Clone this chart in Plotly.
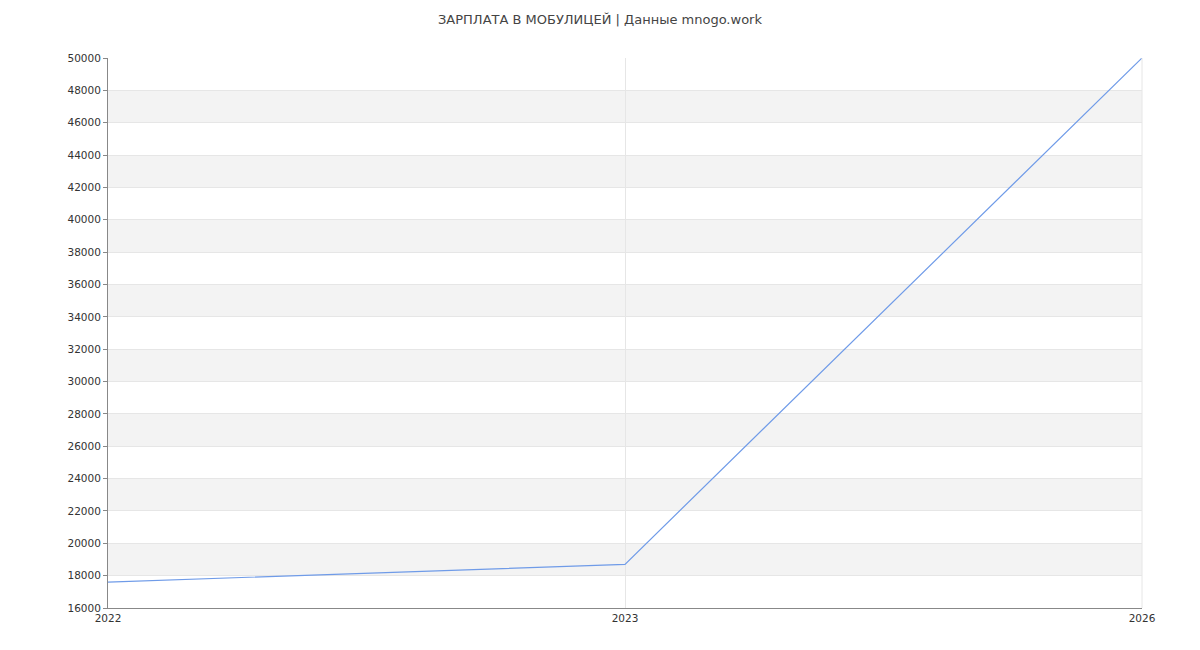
import plotly.graph_objects as go

YEARS = ["2022", "2023", "2026"]
SALARY = [17600, 18700, 50000]
Y_TICKS = list(range(16000, 50001, 2000))

fig = go.Figure()

# alternating gray bands
for lo in range(18000, 50000, 4000):
    fig.add_shape(type="rect", xref="paper", x0=0, x1=1, yref="y", y0=lo, y1=lo + 2000,
                  fillcolor="#f3f3f3", line_width=0, layer="below")

fig.add_trace(go.Scatter(
    x=[0, 1, 2], y=SALARY, mode="lines",
    line=dict(color="#6f9be8", width=1.2), showlegend=False,
))

fig.update_layout(
    autosize=True,
    title=dict(text="ЗАРПЛАТА В МОБУЛИЦЕЙ | Данные mnogo.work", x=0.5, xanchor="center",
               y=0.99, yanchor="top", font=dict(size=13, color="#444")),
    font=dict(family="DejaVu Sans", size=10.5, color="#333"),
    paper_bgcolor="white", plot_bgcolor="white",
    margin=dict(l=100, r=50, t=50, b=50),
    xaxis=dict(range=[0, 2], tickvals=[0, 1, 2], ticktext=YEARS, showgrid=True,
               gridcolor="#e6e6e6", showline=True, linecolor="#888", zeroline=False,
               ticks="", mirror=False),
    yaxis=dict(range=[16000, 50000], tickvals=Y_TICKS, tickformat="d", showgrid=True,
               gridcolor="#e6e6e6", showline=True, linecolor="#888", zeroline=False,
               ticks="outside", ticklen=4, tickcolor="#888"),
)
fig.add_shape(type="line", xref="paper", yref="paper", x0=1, x1=1, y0=0, y1=1,
              line=dict(color="#e6e6e6", width=1))

fig.write_html("out.html", default_width="100%", default_height="100vh",
               config={"responsive": True})
